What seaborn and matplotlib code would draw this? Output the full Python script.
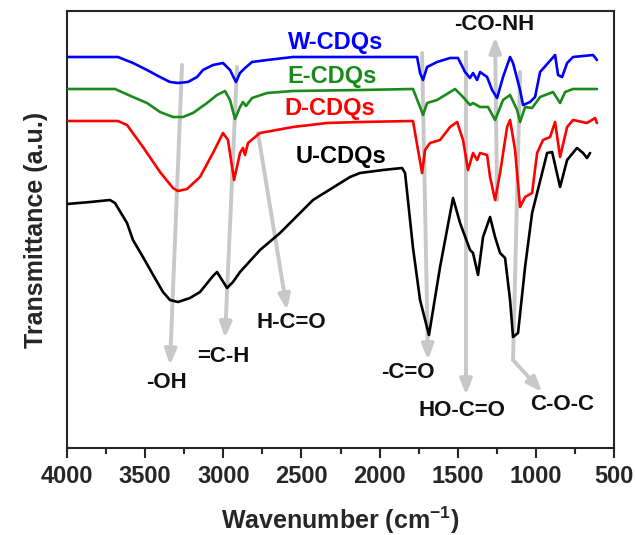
import matplotlib
matplotlib.use("Agg")
import matplotlib.pyplot as plt
import numpy as np
import pandas as pd
import seaborn as sns
from matplotlib.ticker import MultipleLocator

# FTIR spectra (y in arbitrary units, already offset)
u_wn = [4000, 3850, 3725, 3693, 3616, 3578, 3514, 3456, 3386, 3341, 3290, 3213,
        3149, 3066, 3040, 2976, 2938, 2893, 2765, 2637, 2426, 2189, 2125, 1978,
        1856, 1837, 1786, 1741, 1684, 1613, 1530, 1485, 1421, 1402, 1370, 1338,
        1293, 1261, 1229, 1197, 1165, 1146, 1114, 1069, 1024, 928, 896, 845,
        800, 737, 698, 673, 653]
u_t = [244, 246, 248, 245, 225, 208, 191, 175, 156, 148, 146, 150,
       156, 172, 176, 160, 166, 176, 198, 215, 248, 271, 275, 278,
       280, 275, 200, 148, 113, 181, 250, 225, 198, 195, 173, 211,
       231, 211, 195, 190, 148, 111, 115, 181, 235, 295, 296, 261,
       288, 300, 295, 290, 295]

d_wn = [4000, 3674, 3616, 3514, 3405, 3322, 3290, 3232, 3149, 3066, 3002, 2970,
        2931, 2893, 2874, 2861, 2842, 2765, 2554, 2336, 2125, 1786, 1754, 1728,
        1709, 1677, 1613, 1549, 1504, 1466, 1434, 1402, 1376, 1357, 1312, 1293,
        1261, 1229, 1184, 1165, 1133, 1101, 1069, 1024, 992, 954, 909, 877, 845,
        800, 762, 673, 621, 609]
d_t = [327, 327, 323, 301, 276, 260, 257, 259, 271, 295, 315, 308,
       268, 295, 300, 293, 305, 315, 321, 325, 326, 327, 298, 275,
       298, 305, 308, 321, 326, 308, 278, 295, 288, 295, 293, 271,
       248, 275, 321, 328, 298, 241, 251, 255, 295, 308, 311, 326, 291,
       321, 328, 325, 330, 325]

e_wn = [4000, 3693, 3578, 3488, 3405, 3322, 3258, 3194, 3104, 3040, 2989, 2957,
        2925, 2893, 2874, 2855, 2816, 2720, 2554, 2125, 1786, 1741, 1722, 1696,
        1632, 1517, 1466, 1421, 1402, 1357, 1306, 1261, 1210, 1165, 1120, 1101,
        1069, 1024, 973, 890, 845, 813, 762, 609]
e_t = [359, 359, 351, 345, 336, 331, 331, 335, 345, 353, 357, 348,
       329, 341, 346, 342, 350, 355, 357, 358, 359, 341, 333, 345,
       348, 359, 351, 343, 345, 341, 341, 328, 348, 353, 338, 326,
       341, 340, 351, 356, 345, 356, 359, 359]

w_wn = [4000, 3674, 3578, 3488, 3405, 3341, 3290, 3226, 3168, 3130, 3066, 3002,
        2957, 2919, 2893, 2861, 2816, 2720, 2554, 1760, 1741, 1722, 1696, 1632,
        1549, 1498, 1453, 1421, 1402, 1376, 1357, 1312, 1280, 1248, 1210, 1165,
        1146, 1101, 1082, 1037, 1005, 973, 922, 877, 858, 832, 800, 762, 634, 609]
w_t = [391, 391, 385, 378, 371, 366, 365, 366, 371, 378, 383, 385,
       378, 366, 375, 380, 386, 388, 391, 391, 375, 368, 381, 386,
       390, 390, 376, 370, 375, 368, 376, 371, 358, 350, 371, 391,
       385, 358, 343, 346, 351, 376, 385, 393, 373, 371, 385, 391, 393, 388]

samples = ["U-CDQs", "D-CDQs", "E-CDQs", "W-CDQs"]
colors = ["black", "#ff0000", "#1a8a1a", "#0000ff"]

# label positions (wavenumber, y)
sample_label_x = [2247, 2317, 2304, 2279]
sample_label_y = [291, 340, 371, 406]

# band assignments: (text, tail, tip, label position)
bands = [
    ("-OH", (3264, 383), (3341, 83), (3363, 65)),
    ("=C-H", (2912, 381), (2989, 110), (3002, 91)),
    ("H-C=O", (2778, 315), (2592, 138), (2567, 125)),
    ("-C=O", (1728, 395), (1690, 88), (1818, 76)),
    ("HO-C=O", (1447, 396), (1447, 53), (1472, 38)),
    ("-CO-NH", (1248, 248), (1261, 411), (1268, 423)),
]
coc_path_x = [1101, 1146]
coc_path_y = [376, 88]
coc_tip = (960, 56)
coc_label = (832, 43)

frames = []
for name, wn, t in zip(samples, [u_wn, d_wn, e_wn, w_wn], [u_t, d_t, e_t, w_t]):
    frames.append(pd.DataFrame({"wn": wn, "t": t, "sample": name}))
df = pd.concat(frames, ignore_index=True)

sns.set_style("ticks")
plt.rcParams["font.family"] = ["Liberation Sans", "DejaVu Sans"]
plt.rcParams["font.weight"] = "bold"
plt.rcParams["mathtext.fontset"] = "custom"
plt.rcParams["mathtext.rm"] = "Liberation Sans:bold"
plt.rcParams["mathtext.bf"] = "Liberation Sans:bold"

fig = plt.figure(figsize=(6.35, 5.35), dpi=100)
ax = fig.add_axes([67 / 635, 1 - 448 / 535, 547 / 635, 437 / 535])

grey = "#c8c8c8"
arrow_style = "-|>,head_width=0.35,head_length=0.9"
for text, tail, tip, lab in bands:
    ax.annotate("", xy=tip, xytext=tail,
                arrowprops=dict(arrowstyle=arrow_style, color=grey, lw=2.8,
                                shrinkA=0, shrinkB=0),
                zorder=1)
    ax.text(lab[0], lab[1], text, ha="center", va="center", fontsize=16,
            fontweight="bold", color="#111111")
ax.plot(coc_path_x, coc_path_y, color=grey, lw=2.8, zorder=1)
ax.annotate("", xy=coc_tip, xytext=(coc_path_x[-1], coc_path_y[-1]),
            arrowprops=dict(arrowstyle=arrow_style, color=grey, lw=2.8,
                            shrinkA=0, shrinkB=0),
            zorder=1)
ax.text(coc_label[0], coc_label[1], "C-O-C", ha="center", va="center",
        fontsize=16, fontweight="bold", color="#111111")

sns.lineplot(data=df, x="wn", y="t", hue="sample", hue_order=samples,
             palette=colors, estimator=None, sort=False, legend=False,
             lw=1.9, ax=ax, zorder=3)

for name, c, lx, ly in zip(samples, colors, sample_label_x, sample_label_y):
    ax.text(lx, ly, name, ha="center", va="center", fontsize=17,
            fontweight="bold", color=c)

ax.set_xlim(4000, 500)
ax.set_ylim(0, 437)
ax.xaxis.set_major_locator(MultipleLocator(500))
ax.xaxis.set_minor_locator(MultipleLocator(250))
ax.tick_params(axis="x", which="major", direction="out", length=7, width=1.5,
               labelsize=17, pad=5)
ax.tick_params(axis="x", which="minor", direction="out", length=4, width=1.5)
ax.set_yticks([])
for sp in ax.spines.values():
    sp.set_linewidth(1.5)
    sp.set_visible(True)
for lab in ax.get_xticklabels():
    lab.set_fontweight("bold")

ax.set_xlabel(r"Wavenumber (cm$^{-1}$)", fontsize=18, fontweight="bold",
              labelpad=12)
ax.set_ylabel("Transmittance (a.u.)", fontsize=18, fontweight="bold",
              labelpad=14)

fig.savefig("out.png", dpi=100)
